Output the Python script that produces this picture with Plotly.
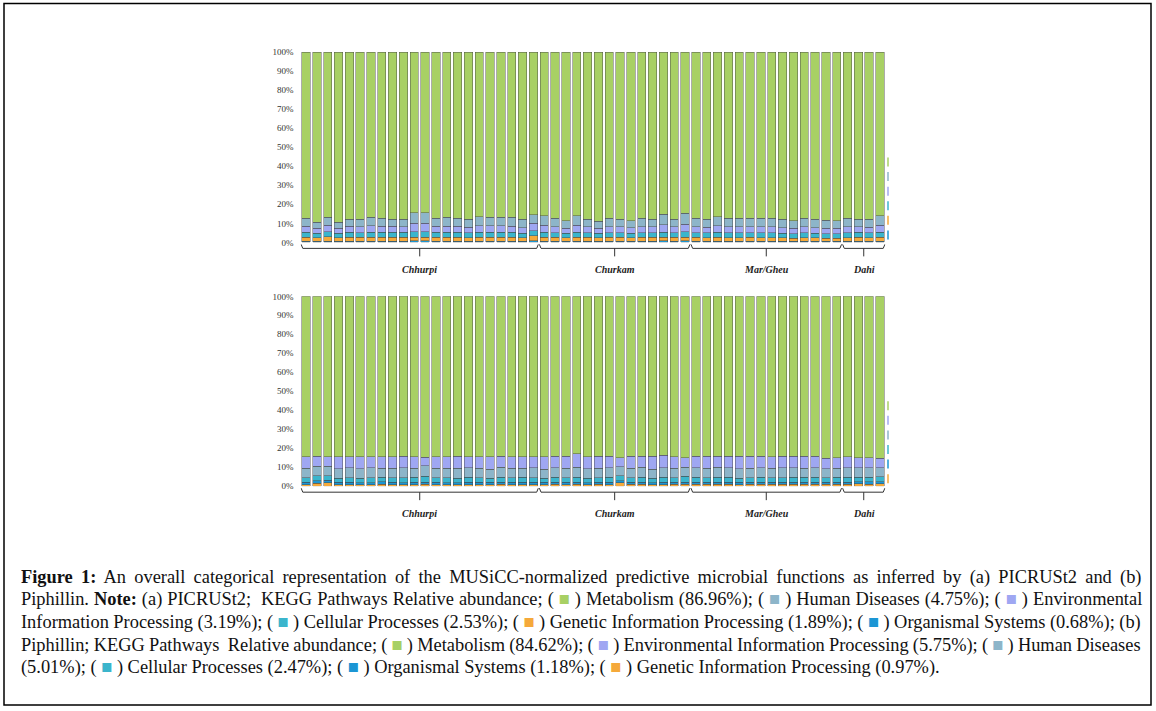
import plotly.graph_objects as go

# amostras: 54 por gráfico, agrupadas por produto
groups = ["Chhurpi", "Churkam", "Mar/Gheu", "Dahi"]
group_sizes = [22, 14, 14, 4]
samples = list(range(sum(group_sizes)))

# (a) PICRUSt2 - abundância relativa (%)
a_org = [0.7,0.6,0.7,0.6,0.7,0.7,0.7,0.6,0.7,0.7,0.8,0.8,0.7,0.7,0.7,0.6,0.7,0.7,0.7,0.7,0.6,0.9,0.7,0.7,0.6,0.7,0.7,0.6,0.7,0.7,0.6,0.7,0.7,0.8,0.7,0.8,0.7,0.7,0.7,0.7,0.7,0.7,0.7,0.7,0.6,0.6,0.7,0.6,0.6,0.6,0.7,0.7,0.7,0.7]
a_gen = [2.0,1.9,2.2,1.9,2.0,1.9,2.0,2.0,2.1,2.0,1.9,1.8,2.0,1.9,2.0,1.9,1.9,2.0,2.0,1.9,1.8,2.6,2.0,1.9,1.8,2.0,1.9,1.8,1.9,1.9,1.8,1.9,1.9,1.8,1.9,1.9,1.9,1.8,1.9,1.8,1.8,1.9,1.8,1.8,1.8,1.7,1.8,1.8,1.7,1.7,1.8,2.1,1.8,1.9]
a_cell = [2.6,2.3,2.7,2.4,2.6,2.5,2.7,2.6,2.6,2.5,2.9,2.9,2.6,2.6,2.5,2.5,2.6,2.7,2.6,2.6,2.4,2.6,2.6,2.5,2.4,2.6,2.5,2.3,2.5,2.5,2.4,2.5,2.5,2.7,2.5,2.8,2.5,2.5,2.6,2.5,2.5,2.5,2.5,2.5,2.4,2.3,2.5,2.4,2.3,2.3,2.5,2.5,2.5,2.7]
a_env = [3.3,2.5,3.4,2.5,3.1,3.0,3.3,3.2,3.0,3.1,4.4,4.6,3.2,3.3,3.2,3.0,3.6,3.3,3.4,3.3,2.9,3.9,3.6,3.1,2.7,3.6,3.0,2.6,3.2,3.0,2.8,3.2,3.0,3.9,3.0,4.1,3.2,3.0,3.5,3.2,3.2,3.2,3.2,3.2,3.0,2.8,3.2,3.0,2.9,2.8,3.2,3.0,3.0,3.6]
a_hd = [4.2,3.2,4.1,3.1,3.8,4.1,4.4,4.4,3.8,3.9,5.7,5.5,4.3,4.6,4.4,4.2,4.8,4.4,4.4,4.6,4.5,4.5,5.1,4.6,3.9,5.1,4.1,3.7,4.5,4.1,3.8,4.5,4.1,5.7,4.1,5.8,4.5,4.2,4.8,4.6,4.6,4.5,4.6,4.6,4.4,4.0,4.6,4.4,4.2,4.0,4.6,3.9,4.2,5.1]
a_met = [87.2,89.5,86.9,89.5,87.8,87.8,86.9,87.2,87.8,87.8,84.3,84.4,87.2,86.9,87.2,87.8,86.4,86.9,86.9,86.9,87.8,85.5,86.0,87.2,88.6,86.0,87.8,89.0,87.2,87.8,88.6,87.2,87.8,85.1,87.8,84.6,87.2,87.8,86.5,87.2,87.2,87.2,87.2,87.2,87.8,88.6,87.2,87.8,88.3,88.6,87.2,87.8,87.8,86.0]

# (b) Piphillin - abundância relativa (%)
b_gen = [0.8,1.6,1.9,0.7,0.8,0.7,0.8,1.1,0.8,0.7,0.8,0.9,0.8,0.7,0.8,0.8,0.7,0.8,0.9,0.8,0.8,0.7,0.8,0.9,0.8,0.9,0.7,0.9,0.8,1.7,0.9,0.9,0.8,0.8,0.9,0.9,0.9,0.9,1.1,0.9,0.8,0.9,0.9,0.9,1.0,0.9,1.0,1.1,1.0,1.1,1.0,1.2,1.1,1.3]
b_org = [1.2,1.3,1.1,1.3,1.2,1.2,1.1,1.2,1.3,1.2,1.2,1.3,1.2,1.2,1.1,1.2,1.3,1.2,1.2,1.2,1.2,1.3,1.2,1.2,1.2,1.2,1.1,1.3,1.2,1.1,1.2,1.2,1.1,1.2,1.2,1.3,1.2,1.2,1.1,1.2,1.2,1.1,1.2,1.2,1.1,1.2,1.2,1.1,1.2,1.1,1.2,1.1,1.2,1.1]
b_cell = [2.4,2.6,2.5,2.3,2.5,2.4,2.6,2.3,2.4,2.5,2.7,3.0,2.4,2.6,2.3,2.8,2.4,2.3,2.5,2.4,2.6,2.4,2.3,2.5,2.4,2.6,2.5,2.3,2.6,2.8,2.4,2.5,2.3,2.6,2.4,2.9,2.5,2.4,2.6,2.5,2.3,2.4,2.5,2.4,2.3,2.6,2.4,2.5,2.3,2.4,2.6,2.5,2.4,2.6]
b_hd = [5.0,5.1,4.9,4.8,5.1,4.9,5.2,4.8,5.0,5.3,4.7,5.6,5.1,4.9,5.3,4.8,5.0,4.7,5.4,5.0,4.9,5.2,4.6,5.0,5.1,5.4,4.9,5.0,5.2,4.6,5.0,5.3,4.8,5.2,4.9,5.0,5.1,4.9,5.2,5.0,4.8,5.1,5.0,4.9,5.2,5.0,4.8,5.1,4.7,4.9,5.0,4.8,4.9,4.7]
b_env = [6.0,5.2,5.0,6.3,5.8,6.2,5.7,6.0,5.9,6.1,6.0,4.5,5.9,6.0,6.3,5.8,6.0,6.4,5.8,6.0,5.9,5.8,6.5,6.2,6.3,7.1,6.2,6.3,6.0,4.9,6.3,5.9,6.8,6.5,6.0,5.0,6.1,6.4,5.8,6.2,6.7,6.3,6.2,6.0,6.2,6.1,6.4,6.0,5.4,5.6,5.6,5.5,5.5,4.9]
b_met = [84.6,84.2,84.6,84.6,84.6,84.6,84.6,84.6,84.6,84.2,84.6,84.7,84.6,84.6,84.2,84.6,84.6,84.6,84.2,84.6,84.6,84.6,84.6,84.2,84.2,82.8,84.6,84.2,84.2,84.9,84.2,84.2,84.2,83.7,84.6,84.9,84.2,84.2,84.2,84.2,84.2,84.2,84.2,84.6,84.2,84.2,84.2,84.2,85.4,84.9,84.6,84.9,84.9,85.4]

cores = {
    "Metabolism": "#a8d064",
    "Human Diseases": "#8db5c9",
    "Environmental Information Processing": "#9fa7f2",
    "Cellular Processes": "#3bb5cc",
    "Genetic Information Processing": "#f5a93a",
    "Organismal Systems": "#1b96d4",
}

# ordem de empilhamento (de baixo para cima)
series_a = [("Organismal Systems", a_org), ("Genetic Information Processing", a_gen),
            ("Cellular Processes", a_cell), ("Environmental Information Processing", a_env),
            ("Human Diseases", a_hd), ("Metabolism", a_met)]
series_b = [("Genetic Information Processing", b_gen), ("Organismal Systems", b_org),
            ("Cellular Processes", b_cell), ("Human Diseases", b_hd),
            ("Environmental Information Processing", b_env), ("Metabolism", b_met)]

W, H = 1156, 711


def px(x):
    return x / W


def py(y):
    # posição vertical em pixels da imagem -> paper (com pequena correção da captura)
    return 1 - ((y - 4.4) / 0.9868) / H


fig = go.Figure()

for nome, vals in series_a:
    fig.add_trace(go.Bar(x=samples, y=vals, name=nome, marker_color=cores[nome],
                         marker_line=dict(width=0.6, color="rgba(70,70,70,0.75)"),
                         xaxis="x", yaxis="y", showlegend=False))
for nome, vals in series_b:
    fig.add_trace(go.Bar(x=samples, y=vals, name=nome, marker_color=cores[nome],
                         marker_line=dict(width=0.6, color="rgba(70,70,70,0.75)"),
                         xaxis="x2", yaxis="y2", showlegend=False))

eixo_x = dict(range=[-0.5, len(samples) - 0.5], showticklabels=False, showgrid=False,
              zeroline=False, showline=False, ticks="")
eixo_y = dict(range=[0, 100], tickvals=list(range(0, 101, 10)),
              ticktext=[f"{v}%" for v in range(0, 101, 10)],
              tickfont=dict(family="Liberation Serif", size=9, color="#333"),
              showgrid=False, zeroline=False, showline=False, ticks="", ticklabelstandoff=6)

shapes = []
annotations = []

# colchetes dos grupos
paineis = [("x", 248, 244, 256, 269), ("x2", 492, 488, 500, 513)]
for xref, y_line, y_up, y_down, y_lab in paineis:
    inicio = -0.5
    for g, n in zip(groups, group_sizes):
        fim = inicio + n
        meio = (inicio + fim) / 2
        shapes.append(dict(type="path", xref=xref, yref="paper",
                           path=f"M {inicio + 0.05},{py(y_up)} L {inicio + 0.2},{py(y_line)} "
                                f"L {fim - 0.2},{py(y_line)} L {fim - 0.05},{py(y_up)}",
                           line=dict(color="#333", width=1)))
        shapes.append(dict(type="line", xref=xref, yref="paper", x0=meio, x1=meio,
                           y0=py(y_line), y1=py(y_down), line=dict(color="#333", width=1)))
        annotations.append(dict(text=f"<b><i>{g}</i></b>", xref=xref, yref="paper", x=meio,
                                y=py(y_lab), showarrow=False, xanchor="center", yanchor="middle",
                                font=dict(family="Liberation Serif", size=10, color="#222")))
        inicio = fim

# restos da legenda cortada à direita
for y0, serie in [(157, series_a[::-1]), (401, series_b[::-1])]:
    for k, (nome, _) in enumerate(serie):
        shapes.append(dict(type="line", xref="paper", yref="paper", x0=px(888), x1=px(888),
                           y0=py(y0 + 14.6 * k), y1=py(y0 + 14.6 * k + 9),
                           line=dict(color=cores[nome], width=1.5)))

# moldura
shapes.append(dict(type="rect", xref="paper", yref="paper", x0=px(4), x1=px(1151),
                   y0=py(705), y1=py(3), line=dict(color="black", width=1.5)))


def q(nome):
    return f'( <span style="color:{cores[nome]}">■</span> )'


legenda = [
    "<b>Figure 1:</b> An overall categorical representation of the MUSiCC-normalized predictive microbial functions as inferred by (a) PICRUSt2 and (b)",
    f"Piphillin. <b>Note:</b> (a) PICRUSt2;  KEGG Pathways Relative abundance; {q('Metabolism')} Metabolism (86.96%); {q('Human Diseases')} Human Diseases (4.75%); {q('Environmental Information Processing')} Environmental",
    f"Information Processing (3.19%); {q('Cellular Processes')} Cellular Processes (2.53%); {q('Genetic Information Processing')} Genetic Information Processing (1.89%); {q('Organismal Systems')} Organismal Systems (0.68%); (b)",
    f"Piphillin; KEGG Pathways  Relative abundance; {q('Metabolism')} Metabolism (84.62%); {q('Environmental Information Processing')} Environmental Information Processing (5.75%); {q('Human Diseases')} Human Diseases",
    f"(5.01%); {q('Cellular Processes')} Cellular Processes (2.47%); {q('Organismal Systems')} Organismal Systems (1.18%); {q('Genetic Information Processing')} Genetic Information Processing (0.97%).",
]
# espaçamento entre palavras para imitar o texto justificado
espacos = [3.65, 0.4, -0.1, -0.4, 0.0]
for k, linha in enumerate(legenda):
    annotations.append(dict(text=f'<span style="word-spacing:{espacos[k]}px">{linha}</span>',
                            xref="paper", yref="paper", x=px(19), y=py(577 + 22.7 * k),
                            xanchor="left", yanchor="middle", showarrow=False,
                            font=dict(family="Liberation Serif", size=18.4, color="#111")))

fig.update_layout(
    width=W, height=H, margin=dict(l=0, r=0, t=0, b=0),
    paper_bgcolor="white", plot_bgcolor="white",
    barmode="stack", barnorm="percent", bargap=0.23,
    xaxis=dict(eixo_x, domain=[px(300.6), px(885.4)], anchor="y"),
    yaxis=dict(eixo_y, domain=[py(242), py(51.5)], anchor="x"),
    xaxis2=dict(eixo_x, domain=[px(300.6), px(885.4)], anchor="y2"),
    yaxis2=dict(eixo_y, domain=[py(486), py(296)], anchor="x2"),
    shapes=shapes, annotations=annotations,
)

fig.write_html("out.html", config={"displayModeBar": False},
               post_script="document.body.style.margin='0';document.body.style.overflow='hidden';")
